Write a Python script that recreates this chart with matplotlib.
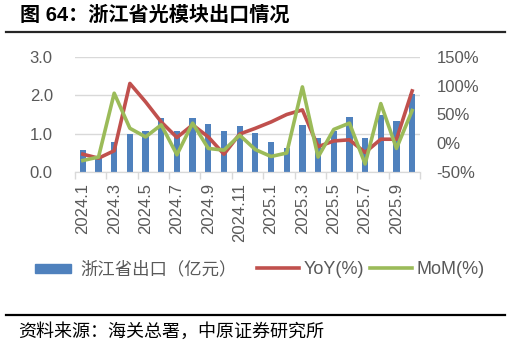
import numpy as np
import matplotlib.pyplot as plt
from matplotlib.lines import Line2D
from matplotlib.patches import Patch

plt.rcParams['font.family'] = ['Liberation Sans', 'Noto Sans CJK SC']

months = ['2024.1', '2024.2', '2024.3', '2024.4', '2024.5', '2024.6', '2024.7', '2024.8',
          '2024.9', '2024.10', '2024.11', '2024.12', '2025.1', '2025.2', '2025.3', '2025.4',
          '2025.5', '2025.6', '2025.7', '2025.8', '2025.9', '2025.10']
export_val = [0.57, 0.38, 0.79, 0.98, 1.07, 1.40, 1.08, 1.42, 1.25, 1.08, 1.21, 1.03,
              0.78, 0.63, 1.23, 0.90, 1.08, 1.43, 0.90, 1.49, 1.33, 2.04]
yoy = [-19, -26, -13, 104, 72, 37, 10, 32, 11, -19, 16, 26,
       37, 50, 58, -6, 4, 6, -16, 7, 7, 91]
mom = [-30, -24, 87, 26, 11, 32, -20, 35, -9, -12, 14, -11,
       -23, -17, 98, -24, 24, 35, -36, 69, -9, 57]

blue = '#4F81BD'
red = '#C0504D'
green = '#9BBB59'
gray = '#595959'

W, H = 511, 346
fig = plt.figure(figsize=(W / 100, H / 100), dpi=100)
ax = fig.add_axes([75 / W, (H - 172) / H, 345 / W, 115 / H])
ax2 = ax.twinx()

x = np.arange(len(months))
ax.bar(x, export_val, width=0.4, color=blue, zorder=2)
ax2.plot(x, yoy, color=red, lw=2.6, solid_joinstyle='round', zorder=3)
ax2.plot(x, mom, color=green, lw=2.6, solid_joinstyle='round', zorder=4)

ax.set_xlim(-0.5, len(months) - 0.5)
ax.set_ylim(0, 3)
ax.set_yticks([0, 1, 2, 3])
ax.set_yticklabels(['0.0', '1.0', '2.0', '3.0'])
ax2.set_ylim(-50, 150)
ax2.set_yticks([-50, 0, 50, 100, 150])
ax2.set_yticklabels(['-50%', '0%', '50%', '100%', '150%'])

ax.grid(axis='y', color='#D9D9D9', lw=1)
ax.set_axisbelow(True)

ax.set_xticks(np.arange(-0.5, len(months), 2))
ax.set_xticklabels([])
ax.set_xticks(x[::2], minor=True)
ax.set_xticklabels(months[::2], minor=True, rotation=90, fontsize=12, color=gray)
ax.tick_params(axis='x', which='major', length=5, color='#D9D9D9', width=1)
ax.tick_params(axis='x', which='minor', length=0, pad=8)
ax.tick_params(axis='y', length=0, labelsize=12, labelcolor=gray, pad=16)
ax2.tick_params(axis='y', length=0, labelsize=12, labelcolor=gray, pad=12)

for a in (ax, ax2):
    for s in ['top', 'left', 'right']:
        a.spines[s].set_visible(False)
    a.spines['bottom'].set_color('#D9D9D9')

# legend entries placed one by one, like the fixed slots of the original
leg_y = 1 - 269 / H
entries = [(Patch(color=blue), '浙江省出口（亿元）', 35, 2.1, 12.5),
           (Line2D([], [], color=red, lw=2.6), 'YoY(%)', 257, 2.3, 13),
           (Line2D([], [], color=green, lw=2.6), 'MoM(%)', 370, 2.3, 13)]
for handle, label, x0, hlen, fs in entries:
    leg = fig.legend([handle], [label], loc='center left', bbox_to_anchor=(x0 / W, leg_y),
                     frameon=False, fontsize=fs, handlelength=hlen, handleheight=0.4,
                     handletextpad=0.3 if fs == 13 else 0.5, borderpad=0, borderaxespad=0)
    for t in leg.get_texts():
        t.set_color(gray)

fig.text(20 / W, 1 - 15 / H, '图 64：浙江省光模块出口情况', fontsize=14.5,
         fontweight='bold', va='center', ha='left')
fig.add_artist(Line2D([6 / W, 505 / W], [1 - 32 / H] * 2, color='#262626', lw=1.6))
fig.add_artist(Line2D([6 / W, 505 / W], [1 - 315 / H] * 2, color='black', lw=1.6))
fig.text(18 / W, 1 - 332 / H, '资料来源：海关总署，中原证券研究所', fontsize=13,
         va='center', ha='left')

fig.savefig('out.png', dpi=100)
